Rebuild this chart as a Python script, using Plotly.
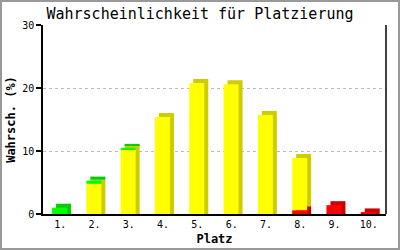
import plotly.graph_objects as go

places = [1, 2, 3, 4, 5, 6, 7, 8, 9, 10]
tick_labels = ["1.", "2.", "3.", "4.", "5.", "6.", "7.", "8.", "9.", "10."]
red_vals = [0.0, 0.0, 0.0, 0.0, 0.0, 0.0, 0.0, 0.6, 1.4, 0.25]
yellow_vals = [0.0, 4.8, 10.2, 15.4, 20.8, 20.6, 15.7, 8.3, 0.0, 0.0]
green_vals = [1.0, 0.5, 0.3, 0.0, 0.0, 0.0, 0.0, 0.0, 0.0, 0.0]

front_colors = {"red": "#FF0000", "yellow": "#FFFF00", "green": "#00FF00"}
side_colors = {"red": "#CC0000", "yellow": "#CCCC00", "green": "#00CC00"}

W, H = 400, 250
ML, MR, MT, MB = 43, 14, 25, 36
pw, ph = W - ML - MR, H - MT - MB
ymax = 30
depth_y = 4 / ph * ymax
depth_x = 4 / pw * 10
bar_w = 15 / pw * 10
front_off = -0.236

series = [("red", red_vals), ("yellow", yellow_vals), ("green", green_vals)]
bases = {}
acc = [0.0] * 10
for name, vals in series:
    bases[name] = list(acc)
    acc = [a + v for a, v in zip(acc, vals)]

fig = go.Figure()
# depth (side + top faces)
for name, vals in series:
    xs, ys, bs = [], [], []
    for p, v, b in zip(places, vals, bases[name]):
        if v <= 0:
            continue
        xs.append(p)
        if b == 0:
            bs.append(0.0)
            ys.append(v + depth_y)
        else:
            bs.append(b + depth_y)
            ys.append(v)
    fig.add_trace(go.Bar(x=xs, y=ys, base=bs, width=bar_w, offset=front_off + depth_x,
                         marker=dict(color=side_colors[name], line=dict(width=0)),
                         showlegend=False, hoverinfo="skip", cliponaxis=False))
# front faces
for name, vals in series:
    xs = [p for p, v in zip(places, vals) if v > 0]
    ys = [v for v in vals if v > 0]
    bs = [b for b, v in zip(bases[name], vals) if v > 0]
    fig.add_trace(go.Bar(x=xs, y=ys, base=bs, width=bar_w, offset=front_off,
                         marker=dict(color=front_colors[name], line=dict(width=0)),
                         showlegend=False, name=name, cliponaxis=False))

mono = "DejaVu Sans Mono"
fig.update_layout(
    width=W, height=H,
    margin=dict(l=ML, r=MR, t=MT, b=MB, pad=0, autoexpand=False),
    barmode="overlay",
    paper_bgcolor="white", plot_bgcolor="white",
    title=dict(text="Wahrscheinlichkeit für Platzierung", x=0.5, xanchor="center",
               xref="container", y=1 - 14 / H, yanchor="middle",
               font=dict(family=mono, size=15, color="black")),
    xaxis=dict(range=[0.5, 10.5], tickmode="array", tickvals=places, ticktext=tick_labels,
               showline=True, linecolor="black", linewidth=1.5, showgrid=False,
               zeroline=False, ticks="", automargin=False,
               tickfont=dict(family=mono, size=10, color="black"),
               title=dict(text="<b>Platz</b>", font=dict(family=mono, size=12, color="black"),
                          standoff=6)),
    yaxis=dict(range=[0, ymax], tickvals=[0, 10, 20, 30], showline=True, linecolor="black",
               linewidth=1.5, ticks="outside", ticklen=5, tickcolor="black", tickwidth=1.5,
               showgrid=True, gridcolor="#BBBBBB", griddash="dot", gridwidth=1,
               zeroline=False, automargin=False,
               tickfont=dict(family=mono, size=10, color="black"),
               title=dict(text="<b>Wahrsch. (%)</b>", font=dict(family=mono, size=12, color="black"),
                          standoff=4)),
    shapes=[
        dict(type="line", xref="paper", yref="paper", x0=1, x1=1, y0=0, y1=1,
             line=dict(color="black", width=1.5)),
        dict(type="rect", xref="paper", yref="paper",
             x0=(-ML + 1) / pw, x1=(W - ML - 1) / pw,
             y0=(-MB + 1) / ph, y1=1 + (MT - 1) / ph,
             line=dict(color="#999999", width=2)),
    ],
)

fig.write_html("out.html")
